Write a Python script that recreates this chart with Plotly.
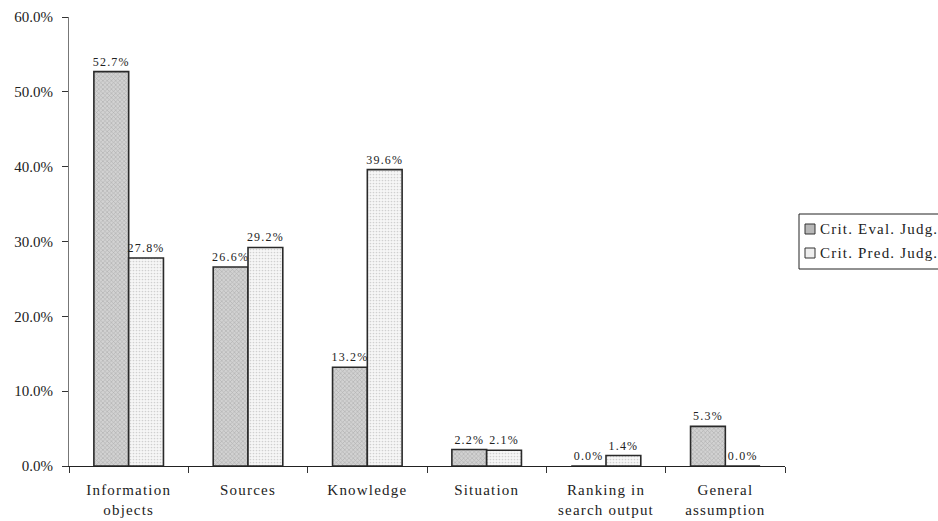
import plotly.graph_objects as go

categories = ["Information<br>objects", "Sources", "Knowledge", "Situation",
              "Ranking in<br>search output", "General<br>assumption"]
eval_vals = [0.527, 0.266, 0.132, 0.022, 0.000, 0.053]
pred_vals = [0.278, 0.292, 0.396, 0.021, 0.014, 0.000]
series_names = ["Crit. Eval. Judg.", "Crit. Pred. Judg."]

font = "Liberation Serif, Times New Roman, serif"

# plot area in pixels (for the hand-drawn legend placement)
L, R, T, B = 69, 785, 17, 466
W, H = 938, 521


def px_x(p):
    return (p - L) / (R - L)


def px_y(p):
    return (B - p) / (B - T)


fig = go.Figure()
fig.add_trace(go.Bar(
    x=categories, y=eval_vals, name=series_names[0],
    marker=dict(color="#bdbdbd", line=dict(color="#2a2a2a", width=1.6),
                pattern=dict(shape="x", size=3, solidity=0.35, fgcolor="#8a8a8a", bgcolor="#d2d2d2")),
    text=[f"{v*100:.1f}%" for v in eval_vals], textposition="outside",
    textfont=dict(family=font, size=12, color="#222222"), cliponaxis=False,
))
fig.add_trace(go.Bar(
    x=categories, y=pred_vals, name=series_names[1],
    marker=dict(color="#ffffff", line=dict(color="#2a2a2a", width=1.6),
                pattern=dict(shape=".", size=3, solidity=0.25, fgcolor="#aaaaaa", bgcolor="#f6f6f6")),
    text=[f"{v*100:.1f}%" for v in pred_vals], textposition="outside",
    textfont=dict(family=font, size=12, color="#222222"), cliponaxis=False,
))

# legend drawn as box + swatches + text
legend_fill = ["#b8b8b8", "#eeeeee"]
legend_y = [229, 253]
shapes = [dict(type="rect", xref="paper", yref="paper",
               x0=px_x(799), x1=px_x(960), y0=px_y(269), y1=px_y(214),
               line=dict(color="#222222", width=1), fillcolor="rgba(0,0,0,0)")]
annotations = []
for name, fill, yy in zip(series_names, legend_fill, legend_y):
    shapes.append(dict(type="rect", xref="paper", yref="paper",
                       x0=px_x(805), x1=px_x(815), y0=px_y(yy + 5), y1=px_y(yy - 5),
                       line=dict(color="#333333", width=1), fillcolor=fill))
    annotations.append(dict(xref="paper", yref="paper", x=px_x(818), y=px_y(yy),
                            xanchor="left", yanchor="middle", showarrow=False, align="left",
                            text=name, font=dict(family=font, size=15, color="#222222")))

fig.update_layout(
    width=W, height=H,
    margin=dict(l=L, r=W - R, t=T, b=H - B),
    paper_bgcolor="white", plot_bgcolor="white",
    barmode="group", bargap=0.417, bargroupgap=0,
    font=dict(family=font, size=15, color="#222222"),
    showlegend=False,
    shapes=shapes, annotations=annotations,
    uniformtext=dict(minsize=8, mode="show"),
)
fig.update_yaxes(range=[0, 0.6], dtick=0.1, tickformat=".1%", showgrid=False,
                 showline=True, linecolor="#777777", linewidth=1,
                 ticks="outside", ticklen=6, tickcolor="#333333",
                 ticklabelstandoff=6, automargin=False,
                 tickfont=dict(family=font, size=15), zeroline=False)
fig.update_xaxes(showgrid=False, showline=True, linecolor="#222222", linewidth=1,
                 ticks="outside", ticklen=6, tickcolor="#333333", tickson="boundaries",
                 ticklabelstandoff=10, automargin=False,
                 tickfont=dict(family=font, size=15))

post = """
var s = document.createElement('style');
s.innerHTML = '.xtick text, .annotation-text, .bars text { letter-spacing: 1.2px; }';
document.head.appendChild(s);
"""
fig.write_html("out.html", post_script=post)
